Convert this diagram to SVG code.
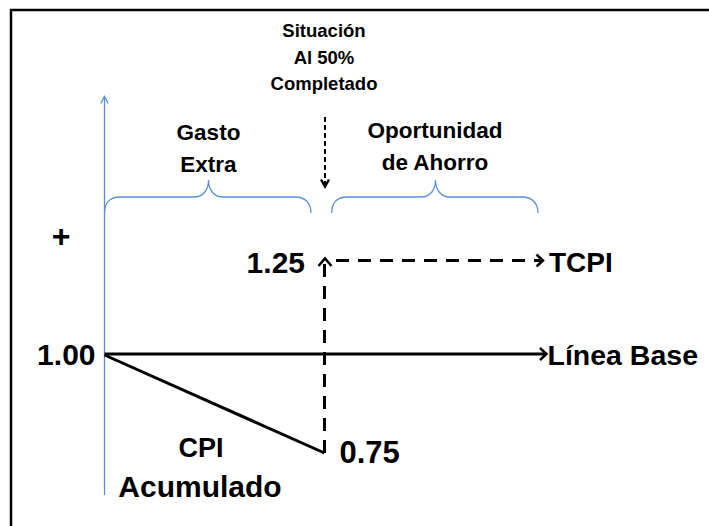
<svg xmlns="http://www.w3.org/2000/svg" width="709" height="526" viewBox="0 0 709 526">
<style>
text{font-family:"Liberation Sans",Arial,sans-serif;font-weight:bold;fill:#000}
.blue{fill:none;stroke:#5b8fd3;stroke-width:1.3}
.blk{fill:none;stroke:#000;stroke-width:3}
.dash{fill:none;stroke:#000;stroke-width:3;stroke-dasharray:13 9}
.small{fill:none;stroke:#000;stroke-width:2;stroke-dasharray:5 3}
.head{fill:none;stroke:#000;stroke-width:2.5;stroke-linejoin:miter}
</style>
<rect width="709" height="526" fill="#fff"/>
<path d="M11,526 V10 H709" fill="none" stroke="#000" stroke-width="2.5"/>

<g id="axis">
<path class="blue" d="M104.5,495 V96.5"/>
<path class="blue" d="M100.8,103.5 L104.5,96.5 L108.2,103.5"/>
</g>
<g id="brace-left"><path class="blue" d="M104.5,213 C104.5,203 110,197 120,197 L194,197 C203,197 208.5,190 208.5,180 C208.5,190 214,197 223,197 L295,197 C305,197 311,203 311,213"/></g>
<g id="brace-right"><path class="blue" d="M331.7,213 C331.7,203 337,197 347,197 L421,197 C430,197 435.5,190 435.5,180 C435.5,190 441,197 450,197 L522,197 C532,197 538,203 538,213"/></g>

<g id="situacion">
<text x="324" y="37" font-size="18.5" text-anchor="middle">Situación</text>
<text x="324" y="63.5" font-size="18.5" text-anchor="middle">Al 50%</text>
<text x="324" y="90" font-size="18.5" text-anchor="middle">Completado</text>
</g>
<g id="gasto">
<text x="208.5" y="140" font-size="22.5" text-anchor="middle">Gasto</text>
<text x="208.5" y="172" font-size="22.5" text-anchor="middle">Extra</text>
</g>
<g id="oportunidad">
<text x="435" y="138" font-size="22.5" text-anchor="middle">Oportunidad</text>
<text x="435" y="170" font-size="22.5" text-anchor="middle">de Ahorro</text>
</g>
<g id="plus"><text x="61" y="247" font-size="32" text-anchor="middle">+</text></g>
<g id="v125"><text x="305" y="273" font-size="30" text-anchor="end">1.25</text></g>
<g id="tcpi"><text x="549" y="272" font-size="28" >TCPI</text></g>
<g id="v100"><text x="95.5" y="365" font-size="30" text-anchor="end">1.00</text></g>
<g id="linea"><text x="547.5" y="365" font-size="28.5">Línea Base</text></g>
<g id="cpi">
<text x="201" y="457" font-size="27" text-anchor="middle">CPI</text>
<text x="200" y="497" font-size="30" text-anchor="middle">Acumulado</text>
</g>
<g id="v075"><text x="339.5" y="463" font-size="31">0.75</text></g>

<g id="connectors">
<path class="small" d="M325,117 V185"/>
<path class="head" d="M321,179.5 L325,186.5 L329,179.5"/>
<path class="blk" d="M104.5,354 H545"/>
<path class="head" d="M540,348 L546.5,354 L540,360"/>
<path class="blk" d="M104.5,355 L324.5,453"/>
<path class="dash" d="M324.5,453 V262"/>
<path class="head" d="M318.5,266 L325,258.5 L331.5,266"/>
<path class="dash" d="M336,260.5 H541"/>
<path class="head" d="M536.5,254.5 L543,260.5 L536.5,266.5"/>
</g>
</svg>
